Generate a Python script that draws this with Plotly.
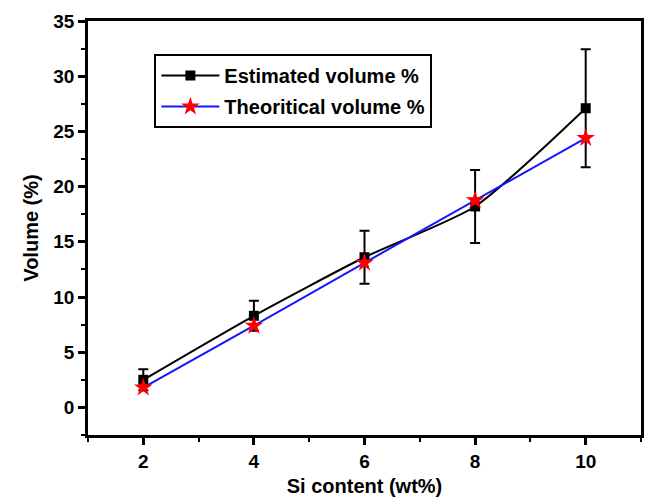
import plotly.graph_objects as go

# Si content (wt%) and volume fractions
si_content = [2, 4, 6, 8, 10]
estimated_volume = [2.5, 8.3, 13.6, 18.2, 27.1]
estimated_error = [0.95, 1.35, 2.4, 3.3, 5.35]
theoretical_volume = [1.8, 7.4, 13.1, 18.75, 24.4]

x_ticks = [2, 4, 6, 8, 10]
y_ticks = [0, 5, 10, 15, 20, 25, 30, 35]

FONT = "Liberation Sans, Arial, sans-serif"

fig = go.Figure()

fig.add_trace(go.Scatter(
    x=si_content,
    y=estimated_volume,
    mode="lines+markers",
    name="<b>Estimated volume %</b>",
    legendgroup="est",
    line=dict(color="black", width=2, shape="spline", smoothing=0.6),
    marker=dict(symbol="square", size=10, color="black"),
    error_y=dict(type="data", array=estimated_error, visible=True,
                 color="black", thickness=2, width=5),
))

fig.add_trace(go.Scatter(
    x=si_content,
    y=theoretical_volume,
    mode="lines+markers",
    name="<b>Theoritical volume %</b>",
    legendgroup="theo",
    line=dict(color="#1515ff", width=2),
    marker=dict(symbol="star", size=14, color="red"),
))

axis_common = dict(
    showline=True,
    linecolor="black",
    linewidth=2.5,
    mirror=True,
    ticks="outside",
    tickwidth=2.5,
    ticklen=7,
    tickcolor="black",
    showgrid=False,
    zeroline=False,
    tickfont=dict(family=FONT, size=19, color="black", weight="bold"),
)

fig.update_xaxes(
    **axis_common,
    range=[1, 11],
    tickvals=x_ticks,
    ticktext=[f"<b>{t}</b>" for t in x_ticks],
    minor=dict(dtick=1, tick0=1, ticks="outside", ticklen=4, tickwidth=2, tickcolor="black"),
    title=dict(text="<b>Si content (wt%)</b>", font=dict(family=FONT, size=20, color="black"), standoff=9),
)

fig.update_yaxes(
    **axis_common,
    range=[-2.5, 35],
    tickvals=y_ticks,
    ticktext=[f"<b>{t}</b>" for t in y_ticks],
    minor=dict(dtick=2.5, tick0=0, ticks="outside", ticklen=4, tickwidth=2, tickcolor="black"),
    title=dict(text="<b>Volume (%)</b>", font=dict(family=FONT, size=20, color="black"), standoff=10),
)

fig.update_layout(
    width=646,
    height=499,
    margin=dict(l=88, r=2, t=21, b=64),
    paper_bgcolor="white",
    plot_bgcolor="white",
    font=dict(family=FONT, color="black"),
    showlegend=True,
    legend=dict(
        x=0.12, y=0.92, xanchor="left", yanchor="top",
        bgcolor="white",
        bordercolor="black",
        borderwidth=2,
        font=dict(family=FONT, size=20, color="black"),
        itemwidth=58,
        tracegroupgap=2,
    ),
)

fig.write_html("out.html")
